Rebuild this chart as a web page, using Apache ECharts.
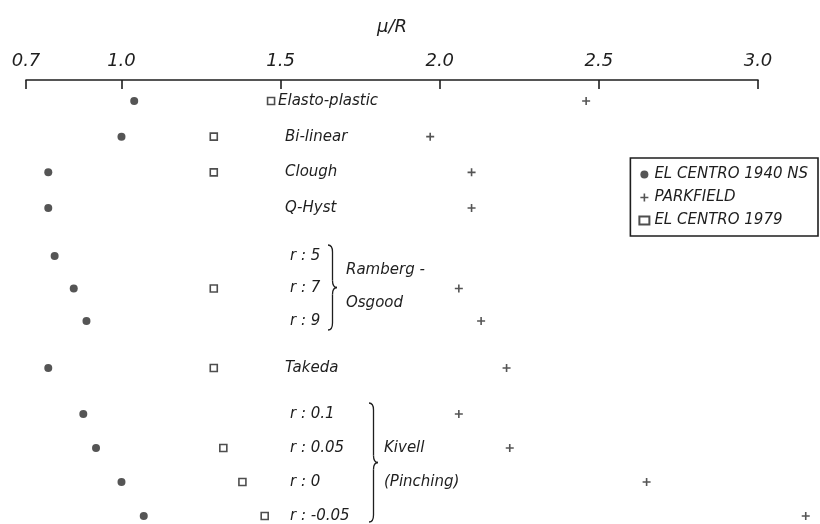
<!DOCTYPE html>
<html><head><meta charset="utf-8">
<script src="https://cdn.jsdelivr.net/npm/echarts@6/dist/echarts.min.js"></script>
<style>html,body{margin:0;padding:0;background:#fff}#c{width:820px;height:524px}</style>
</head><body><div id="c"></div>
<script>
// ---- data ----
const models = ['Elasto-plastic','Bi-linear','Clough','Q-Hyst','r : 5','r : 7','r : 9','Takeda','r : 0.1','r : 0.05','r : 0','r : -0.05'];
const groupSizes = [4, 3, 1, 4];
const groupLabels = [null, ['Ramberg -', 'Osgood'], null, ['Kivell', '(Pinching)']];
const elCentro1940 = [1.04, 1.00, 0.77, 0.77, 0.79, 0.85, 0.89, 0.77, 0.88, 0.92, 1.00, 1.07];
const parkfield    = [2.46, 1.97, 2.10, 2.10, null, 2.06, 2.13, 2.21, 2.06, 2.22, 2.65, 3.15];
const elCentro1979 = [1.47, 1.29, 1.29, null, null, 1.29, null, 1.29, null, 1.32, 1.38, 1.45];
const tickValues = [0.7, 1.0, 1.5, 2.0, 2.5, 3.0];
const seriesNames = ['EL CENTRO 1940 NS', 'PARKFIELD', 'EL CENTRO 1979'];
const axisTitle = 'μ/R';

// ---- layout ----
const FONT = '"DejaVu Sans", "Liberation Sans", sans-serif';
const INK = '#1e1e1e';
const groupTop = [101, 256, 351, 414];
const groupHeight = [107, 65, 34, 102];
const labelOffset = [-252, -264, -259, -264];
const plus = 'path://M4,0 H6 V4 H10 V6 H6 V10 H4 V6 H0 V4 H4 Z';
const styles = [
  {symbol: 'circle', symbolSize: 8, itemStyle: {color: '#2a2a2a'}},
  {symbol: plus, symbolSize: 8, itemStyle: {color: '#2a2a2a'}},
  {symbol: 'rect', symbolSize: 7, itemStyle: {color: '#fff', borderColor: '#222', borderWidth: 1.6}}
];
const valueSets = [elCentro1940, parkfield, elCentro1979];
const lblStyle = {fontFamily: FONT, fontStyle: 'italic', fontSize: 15, color: INK};

const grids = [], xAxes = [], yAxes = [], series = [];
let start = 0;
groupSizes.forEach((n, gi) => {
  const cats = models.slice(start, start + n);
  grids.push({left: 26, right: 62, top: groupTop[gi], height: groupHeight[gi]});
  const xa = {gridIndex: gi, type: 'value', min: 0.7, max: 3.0, show: gi === 0, splitLine: {show: false}};
  if (gi === 0) {
    Object.assign(xa, {
      position: 'top', offset: 21,
      name: axisTitle, nameLocation: 'middle', nameGap: 44,
      nameTextStyle: {fontFamily: FONT, fontStyle: 'italic', fontSize: 18, color: INK},
      axisLine: {show: true, lineStyle: {color: INK, width: 1.6}},
      axisTick: {show: true, inside: true, length: 9, customValues: tickValues, lineStyle: {color: INK, width: 1.6}},
      axisLabel: {customValues: tickValues, margin: 10, formatter: v => Number(v).toFixed(1),
        fontFamily: FONT, fontStyle: 'italic', fontSize: 18, color: INK}
    });
  }
  xAxes.push(xa);
  const axisLabel = Object.assign({inside: true, margin: 0}, lblStyle);
  if (gi === 0) {
    axisLabel.formatter = v => v === models[0] ? v : '{p|' + v + '}';
    axisLabel.rich = {p: Object.assign({padding: [0, 0, 0, 7]}, lblStyle)};
  }
  yAxes.push({
    gridIndex: gi, type: 'category', data: cats, inverse: true, boundaryGap: n === 1,
    offset: labelOffset[gi], axisLine: {show: false}, axisTick: {show: false}, splitLine: {show: false},
    axisLabel: axisLabel
  });
  valueSets.forEach((vals, si) => {
    const data = [];
    cats.forEach((c, k) => { const v = vals[start + k]; if (v != null) data.push([v, c]); });
    series.push(Object.assign({
      type: 'scatter', name: seriesNames[si], xAxisIndex: gi, yAxisIndex: gi,
      clip: false, data: data
    }, styles[si]));
  });
  start += n;
});

const chart = echarts.init(document.getElementById('c'));
chart.setOption({
  animation: false,
  backgroundColor: '#fff',
  legend: {
    data: seriesNames, orient: 'vertical', right: 2, top: 158,
    borderColor: INK, borderWidth: 1.6, padding: [9, 10, 8, 8], itemGap: 8,
    itemWidth: 10, itemHeight: 8,
    textStyle: {fontFamily: FONT, fontStyle: 'italic', fontSize: 15, color: INK}
  },
  grid: grids, xAxis: xAxes, yAxis: yAxes, series: series
});

// ---- braces and group titles ----
function rowY(idx) {
  let s = 0;
  for (let gi = 0; gi < groupSizes.length; gi++) {
    if (idx < s + groupSizes[gi]) return chart.convertToPixel({xAxisIndex: gi, yAxisIndex: gi}, [1, models[idx]])[1];
    s += groupSizes[gi];
  }
}
function brace(x, y1, y2, w, ym) {
  const xm = x + w / 2, r = Math.min(7, (y2 - y1) / 6);
  const st = {stroke: INK, lineWidth: 1.3, fill: null};
  const bz = (a, b, c, d, e, f) => ({type: 'bezierCurve', shape: {x1: a, y1: b, cpx1: c, cpy1: d, x2: e, y2: f}, style: st, silent: true});
  const ln = (a, b, c, d) => ({type: 'line', shape: {x1: a, y1: b, x2: c, y2: d}, style: st, silent: true});
  return [
    bz(x, y1, xm, y1, xm, y1 + r), ln(xm, y1 + r, xm, ym - r), bz(xm, ym - r, xm, ym, x + w, ym),
    bz(x + w, ym, xm, ym, xm, ym + r), ln(xm, ym + r, xm, y2 - r), bz(xm, y2 - r, xm, y2, x, y2)
  ];
}
const gfx = [];
const braceX = [null, 328, null, 369];
const textX = [null, 346, null, 384];
let s = 0;
groupSizes.forEach((n, gi) => {
  if (groupLabels[gi]) {
    const yTop = rowY(s) - 11, yBot = Math.min(rowY(s + n - 1) + 9, 522);
    const ym = (yTop + yBot) / 2;
    brace(braceX[gi], yTop, yBot, 9, ym).forEach(e => gfx.push(e));
    groupLabels[gi].forEach((t, k) => {
      const ty = n === 3 ? (rowY(s + k) + rowY(s + k + 1)) / 2 - 2 : rowY(s + 1 + k);
      gfx.push({type: 'text', x: textX[gi], y: ty, silent: true,
        style: {text: t, fontFamily: FONT, fontStyle: 'italic', fontSize: 15, fill: INK, verticalAlign: 'middle'}});
    });
  }
  s += n;
});
chart.setOption({graphic: gfx});
</script></body></html>
